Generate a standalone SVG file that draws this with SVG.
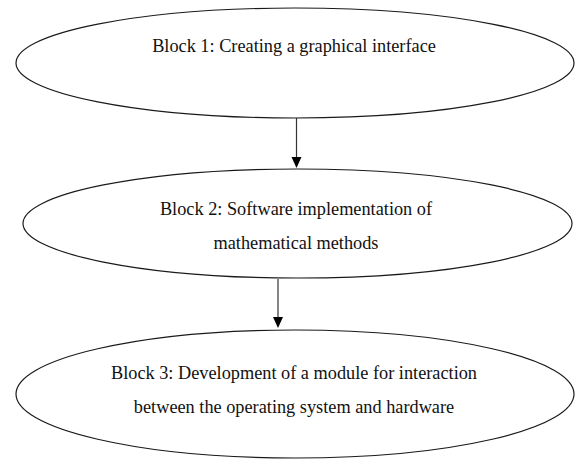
<svg xmlns="http://www.w3.org/2000/svg" width="575" height="460" viewBox="0 0 575 460">
  <style>
    .block { fill: #ffffff; stroke: #1a1a1a; stroke-width: 1.2; }
    .label { font-family: "Liberation Serif", "Times New Roman", serif; font-size: 18.3px; fill: #111111; text-anchor: middle; }
    .flow { stroke: #333333; stroke-width: 1.2; fill: none; }
    .head { fill: #000000; }
  </style>
  <rect width="575" height="460" fill="#ffffff"/>

  <g id="connectors">
    <line class="flow" x1="296.5" y1="118" x2="296.5" y2="158"/>
    <polygon class="head" points="291.5,157 301.5,157 296.5,168"/>
    <line class="flow" x1="278" y1="279" x2="278" y2="318"/>
    <polygon class="head" points="273,317 283,317 278,328"/>
  </g>

  <g id="block1">
    <ellipse class="block" cx="295" cy="63" rx="279" ry="55"/>
    <text class="label" x="294" y="52">Block 1: Creating a graphical interface</text>
  </g>

  <g id="block2">
    <ellipse class="block" cx="297.5" cy="223.5" rx="274.5" ry="54.5"/>
    <text class="label" x="296" y="215">Block 2: Software implementation of</text>
    <text class="label" x="296" y="249">mathematical methods</text>
  </g>

  <g id="block3">
    <ellipse class="block" cx="295" cy="394" rx="279" ry="64"/>
    <text class="label" x="294" y="379">Block 3: Development of a module for interaction</text>
    <text class="label" x="294" y="413">between the operating system and hardware</text>
  </g>
</svg>
